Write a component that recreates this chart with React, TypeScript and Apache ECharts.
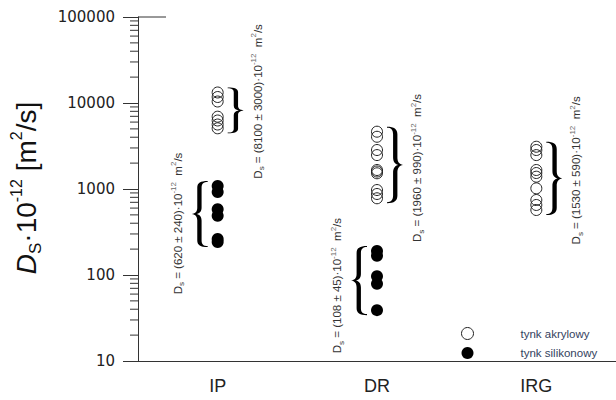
import React, { useEffect, useRef } from 'react';
import * as echarts from 'echarts';

// ---- data ----
const categories = ['IP', 'DR', 'IRG'];
const seriesNames = ['tynk akrylowy', 'tynk silikonowy'];

const acrylicIP = [13250, 11740, 10410, 6930, 6260, 5620, 5080];
const acrylicDR = [4640, 4050, 2840, 2480, 1663, 1597, 1523, 973, 875, 780];
const acrylicIRG = [3100, 2840, 2480, 1663, 1534, 1390, 1018, 745, 652, 570];
const siliconeIP = [1083, 923, 581, 489, 262, 242];
const siliconeDR = [190, 167, 97, 79, 39];

const meanTexts = ['(8100 ± 3000)', '(620 ± 240)', '(108 ± 45)', '(1960 ± 990)', '(1530 ± 590)'];
const groupValues = [acrylicIP, siliconeIP, siliconeDR, acrylicDR, acrylicIRG];
const groupCategory = [0, 0, 1, 1, 2];

const minorMultipliers = [2, 3, 4, 5, 6, 7, 8, 9];
const decades = [10, 100, 1000, 10000];

// ---- layout (not data) ----
const groupLayout = [
  { side: 1, dy: -9 },
  { side: -1, dy: 9.5 },
  { side: -1, dy: 5 },
  { side: 1, dy: 3 },
  { side: 1, dy: -8 },
];

const RBRACE =
  'M0,0 C4.5,0 6.5,3 6.5,10 L6.5,40 C6.5,46 7.5,49 10,50 C7.5,51 6.5,54 6.5,60 L6.5,90 C6.5,97 4.5,100 0,100 L0,98.5 C2.5,98.5 3.8,96 3.8,90 L3.8,60 C3.8,54 5,51 7,50 C5,49 3.8,46 3.8,40 L3.8,10 C3.8,4 2.5,1.5 0,1.5 Z';
const LBRACE =
  'M10,0 C5.5,0 3.5,3 3.5,10 L3.5,40 C3.5,46 2.5,49 0,50 C2.5,51 3.5,54 3.5,60 L3.5,90 C3.5,97 5.5,100 10,100 L10,98.5 C7.5,98.5 6.2,96 6.2,90 L6.2,60 C6.2,54 5,51 3,50 C5,49 6.2,46 6.2,40 L6.2,10 C6.2,4 7.5,1.5 10,1.5 Z';

let registered = false;
function registerShapes() {
  if (registered) return;
  registered = true;
  echarts.graphic.registerShape('rbrace', echarts.graphic.extendPath(RBRACE, {}));
  echarts.graphic.registerShape('lbrace', echarts.graphic.extendPath(LBRACE, {}));
}

const FONT = 'Liberation Sans';

export default function App() {
  const ref = useRef<HTMLDivElement>(null);
  useEffect(() => {
    if (!ref.current) return;
    registerShapes();
    const chart = echarts.init(ref.current, null, { renderer: 'svg' });

    const acrylicData = [
      ...acrylicIP.map((v) => [0, v]),
      ...acrylicDR.map((v) => [1, v]),
      ...acrylicIRG.map((v) => [2, v]),
    ];
    const siliconeData = [
      ...siliconeIP.map((v) => [0, v]),
      ...siliconeDR.map((v) => [1, v]),
    ];

    chart.setOption({
      animation: false,
      backgroundColor: '#ffffff',
      grid: { left: 138, top: 17, width: 480, bottom: 39 },
      xAxis: {
        type: 'category',
        data: categories,
        boundaryGap: true,
        axisLine: { lineStyle: { color: '#333', width: 1 } },
        axisTick: { alignWithLabel: true, length: 15, lineStyle: { color: '#333', width: 2 } },
        axisLabel: { fontSize: 18, color: '#222', margin: 16, fontFamily: FONT },
        splitLine: { show: false },
      },
      yAxis: {
        type: 'log',
        logBase: 10,
        min: 10,
        max: 100000,
        axisLine: { show: true, lineStyle: { color: '#333', width: 1 } },
        axisTick: { show: true, length: 15, lineStyle: { color: '#333', width: 1 } },
        axisLabel: {
          fontSize: 15,
          fontFamily: 'DejaVu Sans',
          color: '#222',
          margin: 23,
          formatter: (v: number) => String(Math.round(v)),
        },
        splitLine: { show: false },
      },
      legend: {
        orient: 'vertical',
        left: 461,
        top: 327,
        padding: 0,
        itemWidth: 12,
        itemHeight: 12,
        itemGap: 7,
        icon: 'circle',
        data: seriesNames,
        itemStyle: { borderWidth: 1 },
        textStyle: {
          fontSize: 11.5,
          fontFamily: FONT,
          color: '#34425e',
          lineHeight: 12,
          padding: [0, 0, 0, 42],
        },
      },
      series: [
        {
          type: 'scatter',
          name: seriesNames[0],
          data: acrylicData,
          symbol: 'circle',
          symbolSize: 11,
          itemStyle: { color: 'rgba(255,255,255,0)', borderColor: '#222', borderWidth: 1, opacity: 1 },
        },
        {
          type: 'scatter',
          name: seriesNames[1],
          data: siliconeData,
          symbol: 'circle',
          symbolSize: 12,
          itemStyle: { color: '#000', opacity: 1 },
        },
      ],
    });

    const toPx = (c: number, v: number) =>
      chart.convertToPixel({ xAxisIndex: 0, yAxisIndex: 0 }, [c, v]) as number[];

    const graphics: any[] = [];

    // minor ticks on log axis
    const gridLeft = 138;
    decades.forEach((d) => {
      minorMultipliers.forEach((m) => {
        const y = toPx(0, d * m)[1];
        graphics.push({
          type: 'line',
          shape: { x1: gridLeft - 8, y1: y, x2: gridLeft, y2: y },
          style: { stroke: '#333', lineWidth: 1 },
        });
      });
    });
    // top partial frame line
    const yTop = toPx(0, 100000)[1];
    graphics.push({
      type: 'line',
      shape: { x1: gridLeft, y1: yTop, x2: gridLeft + 28, y2: yTop },
      style: { stroke: '#333', lineWidth: 1 },
    });

    // braces and annotations
    groupValues.forEach((vals, i) => {
      const c = groupCategory[i];
      const { side, dy } = groupLayout[i];
      const cx = toPx(c, vals[0])[0];
      const yMin = toPx(c, Math.max(...vals))[1] - 5;
      const yMax = toPx(c, Math.min(...vals))[1] + 5;
      const h = yMax - yMin;
      const w = 16;
      const bx = side > 0 ? cx + 10 : cx - 10 - w;
      graphics.push({
        type: side > 0 ? 'rbrace' : 'lbrace',
        x: bx,
        y: yMin,
        scaleX: w / 10,
        scaleY: h / 100,
        style: { fill: '#000' },
      });
      const tx = cx + side * 40;
      const ty = (yMin + yMax) / 2 + dy;
      graphics.push({
        type: 'text',
        x: tx,
        y: ty,
        rotation: Math.PI / 2,
        style: {
          text: `{i|D}{sub|s}{n| = ${meanTexts[i]}·10}{sup|-12}{n|  m}{sup|2}{n|/s}`,
          align: 'center',
          verticalAlign: 'middle',
          rich: {
            i: { fontSize: 11.5, lineHeight: 16, fill: '#333', fontFamily: FONT },
            n: { fontSize: 11.5, lineHeight: 16, fill: '#333', fontFamily: FONT },
            sub: { fontSize: 8, lineHeight: 4, verticalAlign: 'bottom', fill: '#333', fontFamily: FONT },
            sup: { fontSize: 8, lineHeight: 8, verticalAlign: 'top', fill: '#666', fontFamily: FONT },
          },
        },
      });
    });

    // y axis title
    graphics.push({
      type: 'text',
      x: 26,
      y: 188,
      rotation: Math.PI / 2,
      style: {
        text: '{i|D}{sub|S}{n|·10}{sup|-12}{n| [m}{sup|2}{n|/s]}',
        align: 'center',
        verticalAlign: 'middle',
        rich: {
          i: { fontSize: 28, lineHeight: 36, fontStyle: 'italic', fill: '#111', fontFamily: FONT },
          n: { fontSize: 28, lineHeight: 36, fill: '#111', fontFamily: FONT },
          sub: { fontSize: 17, lineHeight: 8, verticalAlign: 'bottom', fill: '#111', fontFamily: FONT },
          sup: { fontSize: 16, lineHeight: 12, verticalAlign: 'top', fill: '#111', fontFamily: FONT },
        },
      },
    });

    chart.setOption({ graphic: graphics });

    return () => chart.dispose();
  }, []);

  return (
    <div
      ref={ref}
      style={{ position: 'absolute', left: 0, top: 0, width: 616, height: 400, background: '#fff' }}
    />
  );
}
